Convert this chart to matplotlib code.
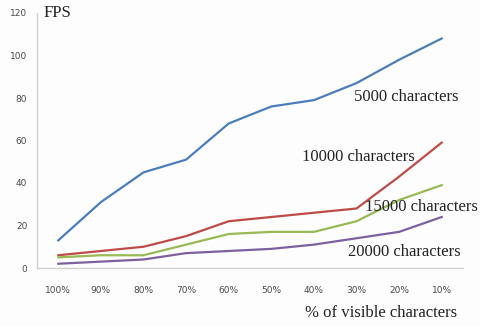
import matplotlib
matplotlib.use("Agg")
import matplotlib.pyplot as plt

categories = ["100%", "90%", "80%", "70%", "60%", "50%", "40%", "30%", "20%", "10%"]
fps_5000 = [13, 31, 45, 51, 68, 76, 79, 87, 98, 108]
fps_10000 = [6, 8, 10, 15, 22, 24, 26, 28, 43, 59]
fps_15000 = [5, 6, 6, 11, 16, 17, 17, 22, 32, 39]
fps_20000 = [2, 3, 4, 7, 8, 9, 11, 14, 17, 24]
y_ticks = [0, 20, 40, 60, 80, 100, 120]

fig = plt.figure(figsize=(4.81, 3.26), dpi=100, facecolor="#fdfdfd")
ax = fig.add_axes([37/481, 1-268/326, 426/481, 255/326])
ax.set_facecolor("#fdfdfd")

x = list(range(len(categories)))
ax.plot(x, fps_5000, color="#4A7EBB", lw=1.6)
ax.plot(x, fps_10000, color="#BE4B48", lw=1.6)
ax.plot(x, fps_15000, color="#98B954", lw=1.6)
ax.plot(x, fps_20000, color="#7D60A0", lw=1.6)

ax.set_xlim(-0.5, len(categories) - 0.5)
ax.set_ylim(0, 120)
ax.set_xticks(x)
ax.set_xticklabels(categories)
ax.set_yticks(y_ticks)
ax.tick_params(axis="both", length=0, labelsize=6.5, colors="#4a4a4a")
ax.tick_params(axis="x", pad=13)
ax.tick_params(axis="y", pad=7)
for s in ["top", "right"]:
    ax.spines[s].set_visible(False)
for s in ["left", "bottom"]:
    ax.spines[s].set_color("#d0d0d0")
    ax.spines[s].set_linewidth(1.0)

serif = "Liberation Serif"
fig.text(44/481, 1-13/326, "FPS", family=serif, fontsize=12, va="center", ha="left", color="#222222")
fig.text(457/481, 1-313/326, "% of visible characters", family=serif, fontsize=12, va="center", ha="right", color="#222222")
fig.text(354/481, 1-97/326, "5000 characters", family=serif, fontsize=12, va="center", ha="left", color="#222222")
fig.text(302/481, 1-157/326, "10000 characters", family=serif, fontsize=12, va="center", ha="left", color="#222222")
fig.text(478/481, 1-207/326, "15000 characters", family=serif, fontsize=12, va="center", ha="right", color="#222222")
fig.text(348/481, 1-252/326, "20000 characters", family=serif, fontsize=12, va="center", ha="left", color="#222222")

fig.savefig("out.png", dpi=100, facecolor=fig.get_facecolor())
